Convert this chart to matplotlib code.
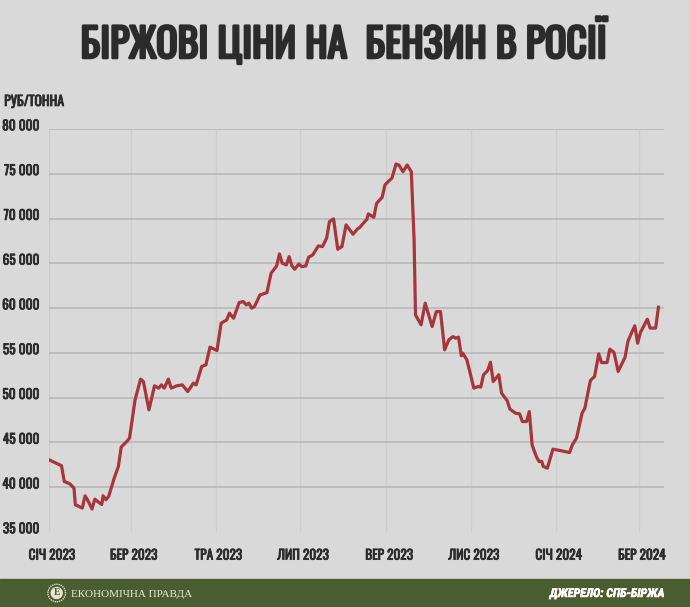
import numpy as np
import matplotlib
matplotlib.use("Agg")
import matplotlib.pyplot as plt
from matplotlib import patheffects
from matplotlib.patches import Circle, Rectangle
from matplotlib.transforms import ScaledTranslation

# days since 2023-01-01
days = [0, 9, 11, 15, 18, 19, 24, 26, 28, 31, 33, 36, 38, 39, 41, 43, 47, 50, 52, 56,
        58, 62, 66, 68, 72, 76, 79, 81, 83, 86, 88, 92, 96, 100, 104, 106, 110, 113, 116, 119,
        121, 124, 128, 130, 133, 137, 140, 142, 144, 146, 148, 152, 157, 160, 164, 166, 168, 171, 173, 175,
        177, 180, 182, 185, 187, 190, 194, 197, 200, 202, 205, 208, 211, 214, 219, 222, 224, 226, 229, 230,
        234, 236, 240, 242, 245, 247, 250, 252, 255, 258, 261, 263, 264, 268, 271, 276, 279, 282, 285, 288,
        291, 293, 295, 297, 298, 301, 304, 306, 309, 311, 313, 316, 318, 320, 324, 326, 330, 332, 336, 339,
        341, 344, 346, 348, 351, 353, 355, 356, 359, 363, 368, 375, 377, 380, 384, 386, 390, 393, 396, 398,
        402, 404, 407, 410, 415, 417, 420, 422, 424, 426, 431, 433, 437, 439]
prices = [43060, 42400, 40640, 40380, 39900, 38040, 37670, 39040, 38520, 37560, 38670, 38290, 38070, 39040, 38600, 38970, 41020, 42320, 44480, 45100,
          45480, 49760, 52070, 51800, 48640, 51320, 51060, 51430, 51060, 52070, 51060, 51320, 51430, 50680, 51620, 51430, 53480, 53660, 55640, 55420,
          55260, 58310, 58680, 59430, 58870, 60620, 60730, 60360, 60550, 59990, 60170, 61470, 61730, 63900, 64710, 66050, 65010, 64820, 65750, 64710,
          64340, 64930, 64630, 64710, 65680, 65940, 66940, 66870, 67800, 69650, 69960, 66570, 66870, 69290, 68250, 68800, 69030, 69400, 69920, 70510,
          70140, 71700, 72370, 73750, 74230, 74500, 76090, 75980, 75230, 75980, 75230, 67610, 59240, 58130, 60550, 57940, 59610, 59610, 55340, 56450,
          56820, 56640, 56750, 54670, 54970, 54220, 52360, 51060, 51240, 51180, 52550, 53030, 53960, 51800, 52550, 50500, 49680, 48720, 48270, 48190,
          47330, 47330, 48450, 44730, 43430, 42870, 42870, 42320, 42130, 44250, 44100, 43870, 44730, 45480, 48270, 48830, 51920, 52360, 54890, 53920,
          53920, 55420, 55040, 52920, 54530, 56270, 57380, 58020, 56080, 57270, 58760, 57770, 57770, 60100]

tick_dates = ["2023-01-01", "2023-03-01", "2023-05-01", "2023-07-01", "2023-09-01",
              "2023-11-01", "2024-01-01", "2024-03-01"]
tick_labels = ["СІЧ 2023", "БЕР 2023", "ТРА 2023", "ЛИП 2023", "ВЕР 2023",
               "ЛИС 2023", "СІЧ 2024", "БЕР 2024"]
y_ticks = list(range(35000, 80001, 5000))

title = "БІРЖОВІ ЦІНИ НА  БЕНЗИН В РОСІЇ"
unit = "РУБ/ТОННА"
brand = "ЕКОНОМІЧНА ПРАВДА"
source = "ДЖЕРЕЛО: СПБ-БІРЖА"

BG = "#d9d9d9"
LINE = "#a6363b"
GREEN = "#4a5d30"
TXT = "#2b2b2b"
COND = ["Oswald", "Roboto Condensed", "DejaVu Sans"]


def fit_width(t, width_px):
    # rescale a text so its drawn width matches the reference
    fig.canvas.draw()
    w = t.get_window_extent().width
    t.set_fontsize(t.get_fontsize() * width_px / w)


def bold(lw, color=TXT):
    return [patheffects.withStroke(linewidth=lw, foreground=color)]


dates = np.datetime64("2023-01-01") + np.array(days).astype("timedelta64[D]")

fig = plt.figure(figsize=(6.9, 6.07), dpi=100, facecolor=BG)
ax = fig.add_axes([0.071, 0.1236, 0.8913, 0.6639], facecolor=BG)

ax.plot(dates, prices, color=LINE, lw=2.3, solid_joinstyle="round", zorder=3)

ax.set_xlim(np.datetime64("2023-01-01"), np.datetime64("2024-03-19"))
ax.set_ylim(35000, 80000)
ax.set_xticks(np.array(tick_dates, dtype="datetime64[D]"))
ax.set_xticklabels(tick_labels)
ax.set_yticks(y_ticks)
ax.set_yticklabels([f"{v:,}".replace(",", " ") for v in y_ticks])
ax.grid(axis="y", color="#bababa", lw=1.3)
ax.grid(axis="x", color="#cdcdcd", lw=0.9)
ax.get_ygridlines()[0].set_visible(False)
ax.set_axisbelow(True)
for s in ax.spines.values():
    s.set_visible(False)
ax.tick_params(length=0, labelsize=9.6, labelcolor=TXT)
ax.tick_params(axis="y", pad=7)
ax.tick_params(axis="x", pad=12)
for lab in ax.get_xticklabels() + ax.get_yticklabels():
    lab.set_fontfamily(COND)
    lab.set_path_effects(bold(0.55))
up = ScaledTranslation(0, 3 / 72, fig.dpi_scale_trans)
for lab in ax.get_yticklabels():
    lab.set_transform(lab.get_transform() + up)
right = ScaledTranslation(2 / 72, 0, fig.dpi_scale_trans)
for lab in ax.get_xticklabels():
    lab.set_transform(lab.get_transform() + right)

t = fig.text(0.4976, 0.9045, title, ha="center", va="baseline", fontsize=30,
             family=COND, color=TXT, path_effects=bold(1.9))
fit_width(t, 526)

u = fig.text(0.006, 0.8254, unit, ha="left", va="baseline", fontsize=10,
             family=COND, color=TXT, path_effects=bold(0.55))
fit_width(u, 60)

fig.patches.append(Rectangle((0, 0), 1, 0.0461, transform=fig.transFigure,
                             color=GREEN, zorder=0))
s = fig.text(0.9638, 0.0165, source, ha="right", va="baseline", fontsize=8.6,
             fontweight="bold", style="italic", family=["Roboto Condensed", "DejaVu Sans"],
             color="white", path_effects=bold(0.4, "white"))
fit_width(s, 114)
b = fig.text(0.1035, 0.0165, brand, ha="left", va="baseline", fontsize=8.6,
             family=["Liberation Serif", "DejaVu Serif"], color="#e9e8d6")
fit_width(b, 121)

# logo: dotted ring with a light disc
fig.patches.append(Circle((0.567, 0.14), 0.088, transform=fig.dpi_scale_trans,
                          facecolor="none", edgecolor="#dcdccb", lw=1.0, ls=(0, (1, 0.6))))
fig.patches.append(Circle((0.567, 0.14), 0.062, transform=fig.dpi_scale_trans,
                          facecolor="#e4e3d2", edgecolor="none"))
fig.text(0.0822, 0.0231, "Е", ha="center", va="center", fontsize=7, fontweight="bold",
         family=["Liberation Serif", "DejaVu Serif"], color=GREEN)

fig.savefig("out.png", dpi=100, facecolor=BG)
